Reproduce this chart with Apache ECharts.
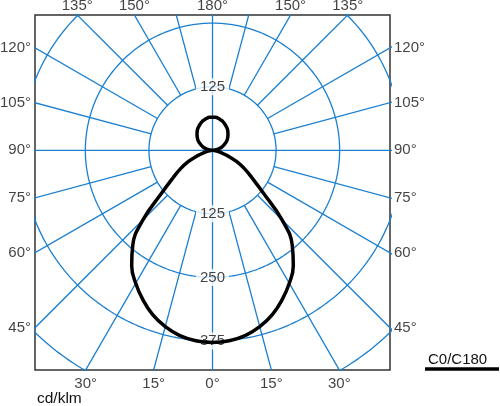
<!DOCTYPE html>
<html><head><meta charset="utf-8">
<script src="https://cdn.jsdelivr.net/npm/echarts@6/dist/echarts.min.js"></script>
<style>html,body{margin:0;padding:0;background:#fff}#c{width:500px;height:406px}</style>
</head><body><div id="c"></div>
<script>
// gamma angles (deg from nadir) and luminous intensity (cd/klm), plane C0/C180
const gammaAngles = [0,5,10,15,20,25,30,35,40,45,50,55,60,65,70,75,80,85,90,95,100,105,110,115,120,125,130,135,140,145,150,155,160,165,170,175,180];
const intensityC0C180 = [378,376,370,359,344,324,302,277,244,193,130,95,73,52,32,16,7,2,0,5,10,15,20,25,30,35,39,43,47,51,54,57,60,62,64,65,65];
const gridCircleValues = [125,250,375,500];
const radiusTicksDown = [125,250,375];
const radiusTicksUp = [125];
const rayAngles = [15,30,45,60,75,105,120,135,150,165];
const angleTickLabels = [0,15,30,45,60,75,90,105,120,135,150,180];
const seriesName = 'C0/C180';
const unitLabel = 'cd/klm';

const X_MIN = -349, X_MAX = 349, Y_MIN = -432, Y_MAX = 266;
const BLUE = '#1a7fd0';
const FONT = 'Liberation Sans, Arial, sans-serif';
const TXT = '#111';
const rad = d => d * Math.PI / 180;

function gridLine(data) {
  return { type: 'line', data, showSymbol: false, symbol: 'none', clip: true, silent: true, z: 2,
    lineStyle: { color: BLUE, width: 1.3 }, animation: false };
}
const series = [];
gridCircleValues.forEach(r => {
  const pts = [];
  for (let a = 0; a <= 360; a += 1) pts.push([r * Math.sin(rad(a)), -r * Math.cos(rad(a))]);
  series.push(gridLine(pts));
});
series.push(gridLine([[X_MIN * 3, 0], [X_MAX * 3, 0]]));
series.push(gridLine([[0, Y_MIN * 3], [0, Y_MAX * 3]]));
rayAngles.forEach(g => {
  [1, -1].forEach(side => {
    const s = side * Math.sin(rad(g)), c = -Math.cos(rad(g));
    series.push(gridLine([[125 * s, 125 * c], [2000 * s, 2000 * c]]));
  });
});
function edgePoint(g, side) {
  const s = side * Math.sin(rad(g)), c = -Math.cos(rad(g));
  let t = Infinity, edge = '';
  const eps = 1e-9;
  if (s > eps && X_MAX / s < t) { t = X_MAX / s; edge = 'right'; }
  if (s < -eps && X_MIN / s < t) { t = X_MIN / s; edge = 'left'; }
  if (c > eps && Y_MAX / c < t) { t = Y_MAX / c; edge = 'top'; }
  if (c < -eps && Y_MIN / c < t) { t = Y_MIN / c; edge = 'bottom'; }
  return { p: [s * t, c * t], edge };
}
const dist = { bottom: 6, top: 2, left: 4, right: 4 };
const angleData = [];
angleTickLabels.forEach(g => {
  const sides = (g === 0 || g === 180) ? [1] : [1, -1];
  sides.forEach(side => {
    const e = edgePoint(g, side);
    angleData.push({ value: e.p, label: { position: e.edge, distance: dist[e.edge], formatter: g + '°' } });
  });
});
series.push({ type: 'scatter', data: angleData, symbolSize: 0, clip: false, silent: true, z: 3,
  label: { show: true, color: TXT, fontSize: 15, fontFamily: FONT } });
const radData = [];
radiusTicksDown.forEach(r => radData.push({ value: [0, -r], label: { formatter: String(r) } }));
radiusTicksUp.forEach(r => radData.push({ value: [0, r], label: { formatter: String(r) } }));
series.push({ type: 'scatter', data: radData, symbolSize: 0, clip: false, silent: true, z: 3,
  label: { show: true, position: 'inside', color: TXT, fontSize: 15, fontFamily: FONT,
    backgroundColor: '#fff', padding: [1, 4] } });
const curve = [];
gammaAngles.forEach((g, i) => curve.push([intensityC0C180[i] * Math.sin(rad(g)), -intensityC0C180[i] * Math.cos(rad(g))]));
for (let i = gammaAngles.length - 1; i >= 0; i--) {
  const g = gammaAngles[i];
  curve.push([-intensityC0C180[i] * Math.sin(rad(g)), -intensityC0C180[i] * Math.cos(rad(g))]);
}
series.push({ type: 'line', name: seriesName, data: curve, showSymbol: false, symbol: 'none', smooth: 0.45,
  clip: true, z: 5, lineStyle: { color: '#000', width: 3.5 } });

const chart = echarts.init(document.getElementById('c'));
chart.setOption({
  animation: false,
  grid: { left: 35, top: 15, width: 355, height: 355, show: true, borderColor: '#333', borderWidth: 1.5, backgroundColor: 'transparent' },
  xAxis: { type: 'value', min: X_MIN, max: X_MAX, show: false },
  yAxis: { type: 'value', min: Y_MIN, max: Y_MAX, show: false },
  series,
  graphic: [
    { type: 'text', left: 428, top: 352, style: { text: seriesName, fill: TXT, fontSize: 15, fontFamily: FONT } },
    { type: 'line', shape: { x1: 425, y1: 369, x2: 499, y2: 369 }, style: { stroke: '#000', lineWidth: 3.5 } },
    { type: 'text', left: 37, top: 391, style: { text: unitLabel, fill: TXT, fontSize: 15.5, fontFamily: FONT } }
  ]
});
</script></body></html>
